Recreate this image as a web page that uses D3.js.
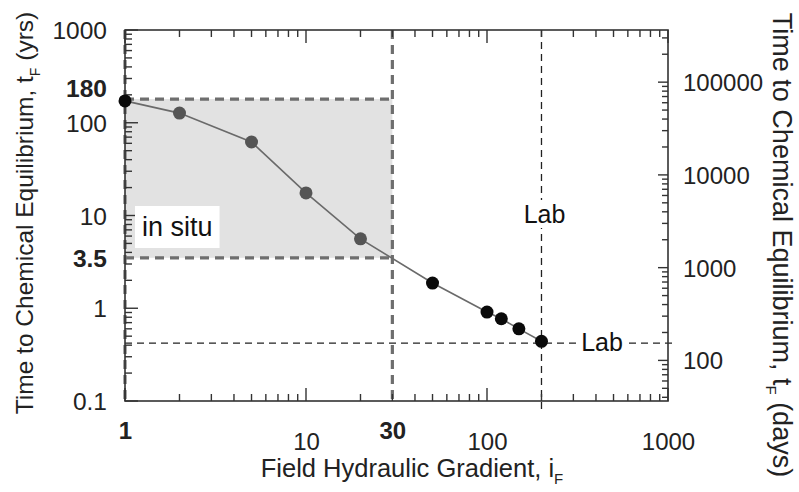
<!DOCTYPE html>
<html><head><meta charset="utf-8">
<script src="https://cdn.jsdelivr.net/npm/d3@7"></script>
<style>
html,body{margin:0;padding:0;background:#fff;}
svg{display:block;font-family:"Liberation Sans",Arial,sans-serif;}
</style></head>
<body><svg id="c" width="799" height="492"></svg>
<script>
// ---- data ----
const gradient = [1, 2, 5, 10, 20, 50, 100, 120, 150, 200];
const timeYrs  = [172, 127, 62, 17.5, 5.6, 1.87, 0.91, 0.77, 0.6, 0.44];
const pointKind = ["end","insitu","insitu","insitu","insitu","lab","lab","lab","lab","lab"];
const inSituX = [1, 30];
const inSituY = [3.5, 180];
const labGradient = 200;
const labTime = 0.42;
const xLabels = [1, 10, 30, 100, 1000];
const xBold = [1, 30];
const yLabels = [0.1, 1, 3.5, 10, 100, 180, 1000];
const yBold = [3.5, 180];
const dayLabels = [100, 1000, 10000, 100000];
const daysPerYear = 365;

const svg = d3.select("#c");
const L = 125, R = 668, T = 30, B = 401;
const x = d3.scaleLog().domain([1, 1000]).range([L, R]);
const y = d3.scaleLog().domain([0.1, 1000]).range([B, T]);
const yd = d3.scaleLog().domain([0.1 * daysPerYear, 1000 * daysPerYear]).range([B, T]);

const axisCol = "#333333";
const dashCol = "#6e6e6e";
const FONT = "Liberation Sans, Arial, sans-serif";

// shaded in-situ region
svg.append("rect")
  .attr("x", x(inSituX[0])).attr("y", y(inSituY[1]))
  .attr("width", x(inSituX[1]) - x(inSituX[0]))
  .attr("height", y(inSituY[0]) - y(inSituY[1]))
  .attr("fill", "#e2e2e2");

// thick grey dashed lines
const dashG = svg.append("g").attr("stroke", dashCol).attr("stroke-width", 3.2)
  .attr("stroke-dasharray", "9,6").attr("fill", "none");
dashG.append("line").attr("x1", x(inSituX[0])).attr("x2", x(inSituX[1]))
  .attr("y1", y(inSituY[1])).attr("y2", y(inSituY[1]));
dashG.append("line").attr("x1", x(inSituX[0])).attr("x2", x(inSituX[1]))
  .attr("y1", y(inSituY[0])).attr("y2", y(inSituY[0]));
dashG.append("line").attr("x1", x(inSituX[1])).attr("x2", x(inSituX[1]))
  .attr("y1", T).attr("y2", B);
dashG.append("line").attr("x1", x(inSituX[0])).attr("x2", x(inSituX[0]))
  .attr("y1", T).attr("y2", B);

// lab thin dashed lines
const labG = svg.append("g").attr("stroke", "#222").attr("stroke-width", 1.3)
  .attr("stroke-dasharray", "7,5").attr("fill", "none");
labG.append("line").attr("x1", x(labGradient)).attr("x2", x(labGradient))
  .attr("y1", T).attr("y2", B + 9);
labG.append("line").attr("x1", L).attr("x2", R + 6)
  .attr("y1", y(labTime)).attr("y2", y(labTime));

// frame (axis domains)
svg.append("rect").attr("x", L).attr("y", T).attr("width", R - L).attr("height", B - T)
  .attr("fill", "none").attr("stroke", axisCol).attr("stroke-width", 1.6);

// inward ticks from the scales
const isMajor = v => { const l = Math.log10(v); return Math.abs(l - Math.round(l)) < 1e-6; };
function ticksOf(s){ const [a, b] = s.domain(); return s.ticks().filter(v => v >= a * 0.999 && v <= b * 1.001); }
const tickG = svg.append("g").attr("stroke", axisCol).attr("stroke-width", 1.4);
const xt = ticksOf(x), yt = ticksOf(y), ydt = ticksOf(yd);
tickG.selectAll("line.tb").data(xt).join("line").attr("class", "tb")
  .attr("x1", d => x(d)).attr("x2", d => x(d)).attr("y1", B).attr("y2", d => B - (isMajor(d) ? 13 : 7));
tickG.selectAll("line.tt").data(xt).join("line").attr("class", "tt")
  .attr("x1", d => x(d)).attr("x2", d => x(d)).attr("y1", T).attr("y2", d => T + (isMajor(d) ? 13 : 7));
tickG.selectAll("line.tl").data(yt).join("line").attr("class", "tl")
  .attr("y1", d => y(d)).attr("y2", d => y(d)).attr("x1", L).attr("x2", d => L + (isMajor(d) ? 13 : 7));
tickG.selectAll("line.tr").data(ydt).join("line").attr("class", "tr")
  .attr("y1", d => yd(d)).attr("y2", d => yd(d)).attr("x1", R).attr("x2", d => R - (isMajor(d) ? 10 : 6));

// tick labels
const gxl = svg.append("g").attr("transform", `translate(0,${B})`)
  .call(d3.axisBottom(x).tickValues(xLabels).tickSize(0).tickPadding(0).tickFormat(d3.format("")));
gxl.select(".domain").remove();
gxl.selectAll(".tick line").remove();
gxl.selectAll(".tick text")
  .attr("font-size", 24).attr("fill", "#222").attr("font-family", FONT)
  .attr("font-weight", d => xBold.includes(d) ? "bold" : "normal")
  .attr("dy", null)
  .attr("y", d => xBold.includes(d) ? 38 : 49);

const gyl = svg.append("g").attr("transform", `translate(${L - 18},0)`)
  .call(d3.axisLeft(y).tickValues(yLabels).tickSize(0).tickPadding(0).tickFormat(d => String(d)));
gyl.select(".domain").remove();
gyl.selectAll(".tick line").remove();
gyl.selectAll(".tick text")
  .attr("font-size", 24.5).attr("fill", "#222").attr("font-family", FONT)
  .attr("font-weight", d => yBold.includes(d) ? "bold" : "normal")
  .attr("dy", d => d === 180 ? "-0.1em" : "0.35em");

const gdl = svg.append("g").attr("transform", `translate(${R + 15},0)`)
  .call(d3.axisRight(yd).tickValues(dayLabels).tickSize(0).tickPadding(0).tickFormat(d3.format("")));
gdl.select(".domain").remove();
gdl.selectAll(".tick line").remove();
gdl.selectAll(".tick text")
  .attr("font-size", 24).attr("fill", "#222").attr("font-family", FONT)
  .attr("dy", "0.35em");

// data line and points
const pts = gradient.map((g, i) => ({g, t: timeYrs[i], k: pointKind[i]}));
svg.append("path").datum(pts)
  .attr("fill", "none").attr("stroke", "#6a6a6a").attr("stroke-width", 1.6)
  .attr("d", d3.line().x(d => x(d.g)).y(d => y(d.t)));
svg.append("g").selectAll("circle").data(pts).join("circle")
  .attr("cx", d => x(d.g)).attr("cy", d => y(d.t)).attr("r", 6.5)
  .attr("fill", d => d.k === "insitu" ? "#555" : "#0a0a0a");

// labels with white boxes
function boxLabel(txt, cx, cy, anchor, fs, padX, padY){
  const g = svg.append("g");
  const t = g.append("text").attr("x", cx).attr("y", cy).attr("text-anchor", anchor)
    .attr("dominant-baseline", "central").attr("font-size", fs).attr("fill", "#111").text(txt);
  const bb = t.node().getBBox();
  g.insert("rect", "text").attr("x", bb.x - padX).attr("y", bb.y - padY).attr("width", bb.width + 2 * padX)
    .attr("height", bb.height + 2 * padY).attr("fill", "#fff");
  return g;
}
boxLabel("in situ", 142, 227, "start", 27, 7, 6);
boxLabel("Lab", x(labGradient) + 3, 214, "middle", 25, 4, 0);
boxLabel("Lab", 602, y(labTime) - 1, "middle", 25, 5, 0);

// axis titles
const lt = svg.append("text").attr("transform", "translate(33,213) rotate(-90)")
  .attr("text-anchor", "middle").attr("font-size", 24.5).attr("fill", "#222");
lt.append("tspan").text("Time to Chemical Equilibrium, t");
lt.append("tspan").attr("font-size", 14).attr("dy", 7).text("F");
lt.append("tspan").attr("dy", -7).text(" (yrs)");

const rt = svg.append("text").attr("transform", "translate(773,245) rotate(90)")
  .attr("text-anchor", "middle").attr("font-size", 27).attr("fill", "#222");
rt.append("tspan").text("Time to Chemical Equilibrium, t");
rt.append("tspan").attr("font-size", 15).attr("dy", 7).text("F");
rt.append("tspan").attr("dy", -7).text(" (days)");

const xtl = svg.append("text").attr("x", 412).attr("y", 477)
  .attr("text-anchor", "middle").attr("font-size", 25.5).attr("fill", "#222");
xtl.append("tspan").text("Field Hydraulic Gradient, i");
xtl.append("tspan").attr("font-size", 15).attr("dy", 7).text("F");
</script></body></html>
